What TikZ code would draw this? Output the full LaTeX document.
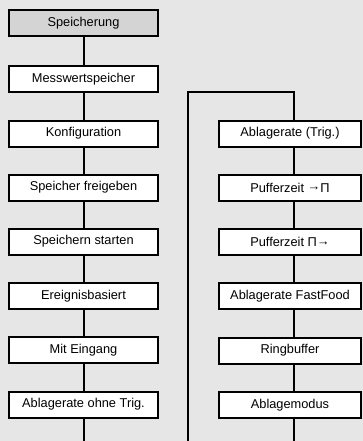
\documentclass[tikz,border=0pt]{standalone}
\usepackage{fontspec}
\setmainfont{Liberation Sans}
\definecolor{bgc}{HTML}{E6E6E6}
\definecolor{headc}{HTML}{D4D4D4}
\newcommand{\rarr}{\raisebox{1.2pt}{→}}
\begin{document}
\begin{tikzpicture}[x=1pt,y=-1pt,
  lbox/.style={draw=black,line width=2pt,fill=white,minimum width=149pt,minimum height=26pt,inner sep=0pt,font=\fontsize{12.8}{15}\selectfont},
  rbox/.style={lbox,minimum width=142pt},
  conn/.style={draw=black,line width=2pt}]
\fill[bgc] (0,0) rectangle (363,441);
\useasboundingbox (0,0) rectangle (363,441);
% left column
\node[lbox,fill=headc] (l0) at (83.5,23.5) {Speicherung};
\node[lbox] (l1) at (83.5,79) {Messwertspeicher};
\node[lbox] (l2) at (83.5,133.5) {Konfiguration};
\node[lbox] (l3) at (83.5,187.5) {Speicher freigeben};
\node[lbox] (l4) at (83.5,241.5) {Speichern starten};
\node[lbox] (l5) at (83.5,296) {Ereignisbasiert};
\node[lbox] (l6) at (83.5,350) {Mit Eingang};
\node[lbox] (l7) at (83.5,404.5) {Ablagerate ohne Trig.};
\coordinate (lbot) at (83.5,441);
% right column
\node[rbox] (r1) at (290,133.5) {Ablagerate (Trig.)};
\node[rbox] (r2) at (290,187.5) {Pufferzeit \rarr Π};
\node[rbox] (r3) at (290,242) {Pufferzeit Π\rarr};
\node[rbox] (r4) at (290,296) {Ablagerate FastFood};
\node[rbox] (r5) at (290,350.5) {Ringbuffer};
\node[rbox] (r6) at (290,405) {Ablagemodus};
\coordinate (rx) at (294,0);
\coordinate (tl) at (188,92);
\coordinate (bl) at (188,441);
\coordinate (tr) at (294,92);
\coordinate (rbot) at (294,441);
% connectors left
\draw[conn] (l0) -- (l1);
\draw[conn] (l1) -- (l2);
\draw[conn] (l2) -- (l3);
\draw[conn] (l3) -- (l4);
\draw[conn] (l4) -- (l5);
\draw[conn] (l5) -- (l6);
\draw[conn] (l6) -- (l7);
\draw[conn] (l7) -- (lbot);
% connectors right
\draw[conn] (bl) -- (tl) -- (tr) -- (r1.north -| rx);
\draw[conn] (r1.south -| rx) -- (r2.north -| rx);
\draw[conn] (r2.south -| rx) -- (r3.north -| rx);
\draw[conn] (r3.south -| rx) -- (r4.north -| rx);
\draw[conn] (r4.south -| rx) -- (r5.north -| rx);
\draw[conn] (r5.south -| rx) -- (r6.north -| rx);
\draw[conn] (r6.south -| rx) -- (rbot);
\end{tikzpicture}
\end{document}
